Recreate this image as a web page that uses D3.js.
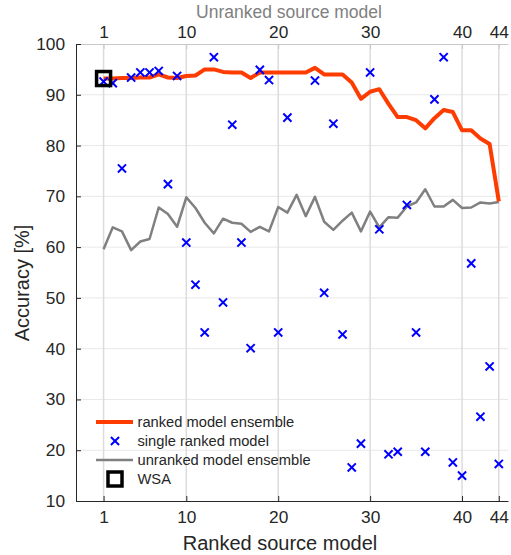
<!DOCTYPE html>
<html>
<head>
<meta charset="utf-8">
<script src="https://cdn.jsdelivr.net/npm/d3@7"></script>
<style>
  body { margin: 0; background: #fff; }
  text { font-family: "Liberation Sans", Arial, Helvetica, sans-serif; }
</style>
</head>
<body>
<svg id="chart" width="511" height="555"></svg>
<script>
// Accuracy per source model (index 1..44)
const rankedEnsemble = [
  93.2, 93.2, 93.3, 93.3, 93.4, 93.4, 94.0, 93.4, 93.3, 93.7,
  93.8, 95.0, 95.0, 94.5, 94.4, 94.4, 93.3, 94.4, 94.4, 94.4,
  94.4, 94.4, 94.4, 95.3, 94.0, 94.0, 94.0, 92.4, 89.2, 90.6,
  91.1, 88.2, 85.6, 85.6, 85.0, 83.4, 85.4, 87.0, 86.6, 83.0,
  83.0, 81.4, 80.3, 69.0
];
const unrankedEnsemble = [
  59.6, 63.9, 63.1, 59.4, 61.1, 61.6, 67.8, 66.5, 64.0, 69.8,
  67.7, 64.8, 62.7, 65.6, 64.8, 64.6, 63.0, 64.0, 63.1, 67.9,
  66.8, 70.3, 66.1, 69.9, 65.0, 63.4, 65.2, 66.8, 63.1, 67.0,
  63.9, 65.9, 65.8, 68.0, 68.8, 71.4, 68.0, 68.0, 69.3, 67.7,
  67.8, 68.8, 68.6, 68.9
];
// two models fall below the axis range and are not shown
const singleRanked = [
  92.6, 92.3, 75.5, 93.4, 94.4, 94.4, 94.7, 72.4, 93.7, 60.9,
  52.6, 43.2, 97.4, 49.1, 84.1, 60.9, 40.1, 94.9, 92.9, 43.2,
  85.5, null, null, 92.8, 51.0, 84.3, 42.8, 16.6, 21.3, 94.4,
  63.5, 19.2, 19.7, 68.3, 43.2, 19.7, 89.1, 97.4, 17.6, 15.0,
  56.8, 26.6, 36.5, 17.3
];
const wsaPoint = [1, 93.2];

const xTicks = [1, 10, 20, 30, 40, 44];
const yTicks = [10, 20, 30, 40, 50, 60, 70, 80, 90, 100];
const legendLabels = ['ranked model ensemble', 'single ranked model', 'unranked model ensemble', 'WSA'];

const svg = d3.select('#chart');

const x = d3.scaleLinear().domain([-2, 45]).range([76, 508]);
const y = d3.scaleLinear().domain([10, 100]).range([501, 44]);

const red = '#ff3c00';
const grey = '#808080';
const blue = '#0000ff';
const axisColor = '#262626';

// Grid
const grid = svg.append('g');
grid.selectAll('line.h')
  .data(yTicks.slice(1, -1))
  .join('line')
  .attr('x1', x.range()[0]).attr('x2', x.range()[1])
  .attr('y1', d => y(d)).attr('y2', d => y(d))
  .attr('stroke', '#e8e8e8').attr('stroke-width', 1);
grid.selectAll('line.v')
  .data(xTicks)
  .join('line')
  .attr('x1', d => x(d)).attr('x2', d => x(d))
  .attr('y1', y.range()[0]).attr('y2', y.range()[1])
  .attr('stroke', '#dcdcdc').attr('stroke-width', 1.5);

// Axes
const fs = 17.3;
const styleAxis = (g, col, lineCol) => {
  g.select('.domain').attr('stroke', lineCol);
  g.selectAll('.tick line').attr('stroke', lineCol);
  g.selectAll('.tick text').attr('fill', col).style('font-size', fs + 'px')
    .style('font-family', '"Liberation Sans", Arial, sans-serif');
};

svg.append('g')
  .attr('transform', `translate(0,${y.range()[1]})`)
  .call(d3.axisTop(x).tickValues(xTicks).tickSizeInner(-5).tickSizeOuter(0).tickPadding(6))
  .call(g => styleAxis(g, axisColor, '#c8c8c8'));

svg.append('g')
  .attr('transform', `translate(0,${y.range()[0]})`)
  .call(d3.axisBottom(x).tickValues(xTicks).tickSizeInner(-5).tickSizeOuter(0).tickPadding(10))
  .call(g => styleAxis(g, axisColor, axisColor));

svg.append('g')
  .attr('transform', `translate(${x.range()[0]},0)`)
  .call(d3.axisLeft(y).tickValues(yTicks).tickSizeInner(-5).tickSizeOuter(0).tickPadding(11))
  .call(g => styleAxis(g, axisColor, axisColor));

// Axis titles
svg.append('text')
  .attr('x', 289).attr('y', 12).attr('dy', '0.35em')
  .attr('text-anchor', 'middle').attr('fill', grey)
  .style('font-size', '17.5px')
  .text('Unranked source model');
svg.append('text')
  .attr('x', 280).attr('y', 543).attr('dy', '0.35em')
  .attr('text-anchor', 'middle').attr('fill', axisColor)
  .style('font-size', '20px')
  .text('Ranked source model');
svg.append('text')
  .attr('transform', 'translate(22,283) rotate(-90)')
  .attr('dy', '0.35em')
  .attr('text-anchor', 'middle').attr('fill', axisColor)
  .style('font-size', '20px')
  .text('Accuracy [%]');

// Lines
const line = d3.line()
  .x((d, i) => x(i + 1))
  .y(d => y(d));

svg.append('path')
  .datum(unrankedEnsemble)
  .attr('d', line)
  .attr('fill', 'none')
  .attr('stroke', grey)
  .attr('stroke-width', 2.5)
  .attr('stroke-linejoin', 'round');

svg.append('path')
  .datum(rankedEnsemble)
  .attr('d', line)
  .attr('fill', 'none')
  .attr('stroke', red)
  .attr('stroke-width', 4)
  .attr('stroke-linejoin', 'round');

// Crosses
const cross = d3.symbol().type(d3.symbolX).size(45);
const crossPts = singleRanked
  .map((v, i) => ({ model: i + 1, acc: v }))
  .filter(d => d.acc !== null);

svg.append('g')
  .selectAll('path')
  .data(crossPts)
  .join('path')
  .attr('transform', d => `translate(${x(d.model)},${y(d.acc)})`)
  .attr('d', cross)
  .attr('fill', 'none')
  .attr('stroke', blue)
  .attr('stroke-width', 2);

// WSA marker
svg.append('rect')
  .attr('x', x(wsaPoint[0]) - 7)
  .attr('y', y(wsaPoint[1]) - 7)
  .attr('width', 14).attr('height', 14)
  .attr('fill', 'none')
  .attr('stroke', '#000')
  .attr('stroke-width', 3.5);

// Legend
const legend = svg.append('g').attr('transform', 'translate(0,422)');
const rowH = 19;
legendLabels.forEach((label, i) => {
  const row = legend.append('g').attr('transform', `translate(0,${i * rowH})`);
  if (i === 0 || i === 2) {
    row.append('line')
      .attr('x1', 96).attr('x2', 133).attr('y1', 0).attr('y2', 0)
      .attr('stroke', i === 0 ? red : grey)
      .attr('stroke-width', i === 0 ? 4 : 2.5);
  } else if (i === 1) {
    row.append('path')
      .attr('transform', 'translate(115,0)')
      .attr('d', cross)
      .attr('fill', 'none')
      .attr('stroke', blue)
      .attr('stroke-width', 2);
  } else {
    row.append('rect')
      .attr('x', 108).attr('y', -7)
      .attr('width', 14).attr('height', 14)
      .attr('fill', 'none')
      .attr('stroke', '#000')
      .attr('stroke-width', 3.5);
  }
  row.append('text')
    .attr('x', 137.5).attr('y', 0).attr('dy', '0.35em')
    .attr('fill', axisColor)
    .style('font-size', '14.7px')
    .text(label);
});
</script>
</body>
</html>
